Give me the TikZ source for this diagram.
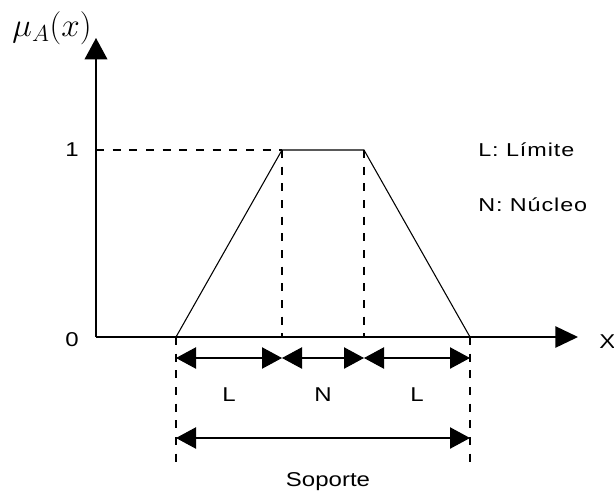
\documentclass[tikz,border=0pt]{standalone}
\usepackage{fontspec}
\setmainfont{Liberation Sans}[FakeStretch=1.2]
\newfontfamily\legendfont{Liberation Sans}[FakeStretch=1.25, LetterSpace=5]
\usetikzlibrary{arrows.meta}
\tikzset{
  bigtip/.tip={Triangle[length=15pt,width=16pt]},
  axis/.style={line width=1.2pt},
  guide/.style={line width=0.8pt, dash pattern=on 6pt off 6.5pt},
  dim/.style={line width=0.8pt, bigtip-bigtip},
  lbl/.style={font=\fontsize{15}{18}\selectfont, inner sep=0pt},
  legend/.style={lbl, anchor=west, font=\legendfont\fontsize{14}{17}\selectfont}
}
\begin{document}
\begin{tikzpicture}[x=0.75pt,y=-0.75pt]%
  \useasboundingbox (0,0) rectangle (614,494);
  \def\xo{96}%
  \def\yo{337}%
  \def\yone{150}%
  \def\xa{176}%
  \def\xb{282}%
  \def\xc{364}%
  \def\xd{470}%
  \def\ya{358}
  \def\yb{438}
  \def\ye{463}

  %axes:
  \coordinate (O) at (\xo,\yo);
  \coordinate (ytip) at (\xo,38);
  \coordinate (xtip) at (578,\yo);
  \draw[axis, -{Triangle[length=16pt,width=17pt]}] (O) -- (ytip);
  \draw[axis, -{Triangle[length=17pt,width=16pt]}] (O) -- (xtip);
  \node[lbl, anchor=west] (xlab) at (599,342) {X};
  \node (mulab) at (52,28) {\fontsize{25}{30}\selectfont$\mu_A(x)$};
  \node[lbl] (one) at (72,150) {1};
  \node[lbl] (zero) at (72,340) {0};

  %trapezoid:
  \coordinate (p1) at (\xa,\yo);
  \coordinate (p2) at (\xb,\yone);
  \coordinate (p3) at (\xc,\yone);
  \coordinate (p4) at (\xd,\yo);
  \draw[line width=0.8pt] (p1) -- (p2) -- (p3) -- (p4);

  %dashed guides
  \draw[guide] (\xo,\yone) -- (p2);
  \draw[guide] (p2) -- (\xb,\yo);
  \draw[guide] (p3) -- (\xc,\yo);
  \draw[guide] (p1) -- (\xa,\ye);
  \draw[guide] (p4) -- (\xd,\ye);

  %dimension arrows
  \foreach \n/\x in {a/\xa, b/\xb, c/\xc, d/\xd}{
    \coordinate (\n1) at (\x,\ya);
  }
  \coordinate (a2) at (\xa,\yb);
  \coordinate (d2) at (\xd,\yb);
  \draw[dim] (a1) -- (b1);
  \draw[dim] (b1) -- (c1);
  \draw[dim] (c1) -- (d1);
  \draw[dim] (a2) -- (d2);

  \node[lbl] (lim1) at ({(\xa+\xb)/2},395) {L};
  \node[lbl] (nuc) at ({(\xb+\xc)/2},395) {N};
  \node[lbl] (lim2) at ({(\xc+\xd)/2},395) {L};
  \node[lbl] (sop) at (328,482) {Soporte};

  %legend
  \node[legend] (leglim) at (478,150) {L: Límite};
  \node[legend] (legnuc) at (478,205) {N: Núcleo};
\end{tikzpicture}
\end{document}
